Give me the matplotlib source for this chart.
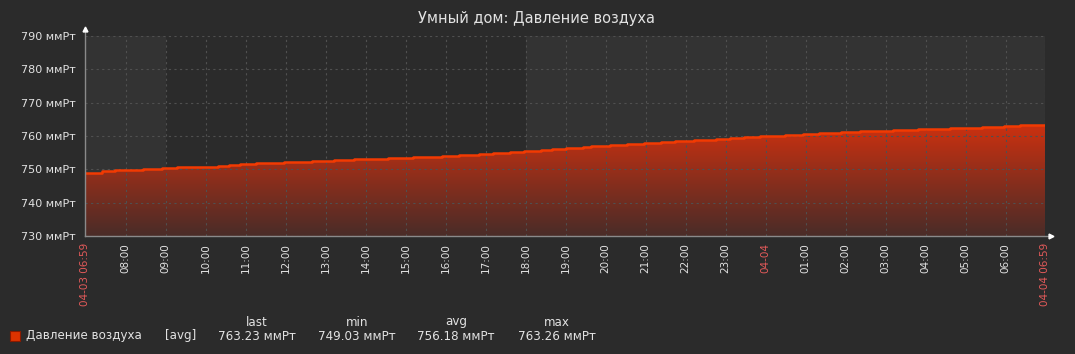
import numpy as np
import pandas as pd
import matplotlib
matplotlib.use("Agg")
import matplotlib.pyplot as plt
import matplotlib.dates as mdates
from matplotlib.colors import LinearSegmentedColormap
from matplotlib.patches import Rectangle

# ---------------- data ----------------
title = "Умный дом: Давление воздуха"
series_name = "Давление воздуха"
unit = "ммРт"
period_start = "2024-04-03 06:59"
period_end = "2024-04-04 06:59"
work_start = "2024-04-03 09:00"
work_end = "2024-04-03 18:00"

step_times = [
    "2024-04-03 06:59", "2024-04-03 07:24", "2024-04-03 07:44", "2024-04-03 08:26",
    "2024-04-03 08:54", "2024-04-03 09:17", "2024-04-03 10:18", "2024-04-03 10:35",
    "2024-04-03 10:51", "2024-04-03 11:15", "2024-04-03 11:57", "2024-04-03 12:39",
    "2024-04-03 13:12", "2024-04-03 13:42", "2024-04-03 14:33", "2024-04-03 15:11",
    "2024-04-03 15:54", "2024-04-03 16:20", "2024-04-03 16:50", "2024-04-03 17:11",
    "2024-04-03 17:36", "2024-04-03 17:57", "2024-04-03 18:23", "2024-04-03 18:39",
    "2024-04-03 19:00", "2024-04-03 19:26", "2024-04-03 19:38", "2024-04-03 20:06",
    "2024-04-03 20:32", "2024-04-03 20:57", "2024-04-03 21:23", "2024-04-03 21:44",
    "2024-04-03 22:12", "2024-04-03 22:45", "2024-04-03 23:06", "2024-04-03 23:27",
    "2024-04-03 23:51", "2024-04-04 00:29", "2024-04-04 00:56", "2024-04-04 01:20",
    "2024-04-04 01:53", "2024-04-04 02:21", "2024-04-04 03:11", "2024-04-04 03:48",
    "2024-04-04 04:36", "2024-04-04 05:24", "2024-04-04 05:57", "2024-04-04 06:21",
    "2024-04-04 06:59",
]
step_values = [
    749.03, 749.4, 749.7, 750.1,
    750.4, 750.7, 750.9, 751.3,
    751.6, 751.9, 752.1, 752.5,
    752.8, 753.1, 753.4, 753.7,
    754.0, 754.3, 754.5, 754.8,
    755.1, 755.4, 755.8, 756.1,
    756.4, 756.7, 757.0, 757.3,
    757.6, 757.9, 758.1, 758.4,
    758.8, 759.1, 759.4, 759.7,
    760.0, 760.3, 760.6, 760.9,
    761.2, 761.5, 761.8, 762.1,
    762.4, 762.7, 763.0, 763.26,
    763.23,
]

y_ticks = [730, 740, 750, 760, 770, 780, 790]
x_tick_times = [
    "2024-04-03 06:59", "2024-04-03 08:00", "2024-04-03 09:00", "2024-04-03 10:00",
    "2024-04-03 11:00", "2024-04-03 12:00", "2024-04-03 13:00", "2024-04-03 14:00",
    "2024-04-03 15:00", "2024-04-03 16:00", "2024-04-03 17:00", "2024-04-03 18:00",
    "2024-04-03 19:00", "2024-04-03 20:00", "2024-04-03 21:00", "2024-04-03 22:00",
    "2024-04-03 23:00", "2024-04-04 00:00", "2024-04-04 01:00", "2024-04-04 02:00",
    "2024-04-04 03:00", "2024-04-04 04:00", "2024-04-04 05:00", "2024-04-04 06:00",
    "2024-04-04 06:59",
]
x_tick_labels = [
    "04-03 06:59", "08:00", "09:00", "10:00", "11:00", "12:00", "13:00", "14:00",
    "15:00", "16:00", "17:00", "18:00", "19:00", "20:00", "21:00", "22:00",
    "23:00", "04-04", "01:00", "02:00", "03:00", "04:00", "05:00", "06:00",
    "04-04 06:59",
]
highlight_labels = ["04-03 06:59", "04-04", "04-04 06:59"]

stat_names = ["last", "min", "avg", "max"]
stat_values = [763.23, 749.03, 756.18, 763.26]
agg_label = "[avg]"

# ---------------- style ----------------
W, H = 1075, 354
BG = "#2b2b2b"
LIGHT = "#333333"
TXT = "#e2e2e2"
RED_TXT = "#e45a5a"
LINE = "#f23a02"
GRID = "#505050"
AXIS = "#8a8a8a"

plt.rcParams["font.family"] = ["DejaVu Sans"]

fig = plt.figure(figsize=(W / 100, H / 100), dpi=100, facecolor=BG)
L, R, T, B = 85, 1045, 36, 236
ax = fig.add_axes([L / W, 1 - B / H, (R - L) / W, (B - T) / H])
ax.set_facecolor(BG)

t = pd.to_datetime(step_times)
v = np.array(step_values)
tn = mdates.date2num(t)
x0 = mdates.date2num(pd.Timestamp(period_start))
x1 = mdates.date2num(pd.Timestamp(period_end))

# non-working time shading
ax.axvspan(x0, mdates.date2num(pd.Timestamp(work_start)), color=LIGHT, lw=0, zorder=0)
ax.axvspan(mdates.date2num(pd.Timestamp(work_end)), x1, color=LIGHT, lw=0, zorder=0)

ax.set_xlim(x0, x1)
ax.set_ylim(730, 790)

# gradient fill under the step line
fill = ax.fill_between(tn, 730, v, step="post", color="none", lw=0, zorder=2)
cmap = LinearSegmentedColormap.from_list("g", ["#4a2c28", "#8a2e1c", "#cc3110"])
yy = np.linspace(730, 790, 300)
grad = np.clip((yy - 730) / (763.5 - 730), 0, 1)[:, None]
im = ax.imshow(grad, extent=[x0, x1, 730, 790], origin="lower", aspect="auto",
               cmap=cmap, vmin=0, vmax=1, zorder=2, interpolation="bilinear")
path = fill.get_paths()[0]
im.set_clip_path(path, transform=ax.transData)

ax.step(tn, v, where="post", color=LINE, lw=1.8, zorder=3)

# ticks / grid
xt = mdates.date2num(pd.to_datetime(x_tick_times))
ax.set_xticks(xt)
ax.set_xticklabels(x_tick_labels, rotation=90, fontsize=7.5, va="top", ha="center")
for lab, txt in zip(ax.get_xticklabels(), x_tick_labels):
    lab.set_color(RED_TXT if txt in highlight_labels else TXT)
ax.set_yticks(y_ticks)
ax.set_yticklabels([f"{y} {unit}" for y in y_ticks], fontsize=8, color=TXT)
ax.tick_params(axis="x", length=0, pad=5)
ax.tick_params(axis="y", length=0, pad=7)
ax.grid(True, color=GRID, lw=0.8, linestyle=(0, (2, 3)), zorder=1)
ax.set_axisbelow(False)
for s in ax.spines.values():
    s.set_visible(False)

# axis lines with arrow heads
ax.plot([0, 0], [0, 1.035], transform=ax.transAxes, color=AXIS, lw=1.0, clip_on=False, zorder=5)
ax.plot([0, 1.006], [0, 0], transform=ax.transAxes, color=AXIS, lw=1.0, clip_on=False, zorder=5)
ax.plot([0], [1.035], marker="^", ms=3.5, color="white", transform=ax.transAxes, clip_on=False, zorder=6)
ax.plot([1.006], [0], marker=">", ms=3.5, color="white", transform=ax.transAxes, clip_on=False, zorder=6)

# title
fig.text(536 / W, 1 - 19 / H, title, ha="center", va="center", fontsize=10.5, color=TXT)

# legend
def fp(x, y):
    return x / W, 1 - y / H

fig.patches.append(Rectangle(fp(10, 341), 10 / W, 10 / H, transform=fig.transFigure,
                             facecolor="#dd3300", edgecolor="#8a1a00", lw=0.8))
fig.text(*fp(26, 336), series_name, ha="left", va="center", fontsize=8.6, color=TXT)
fig.text(*fp(165, 336), agg_label, ha="left", va="center", fontsize=8.6, color=TXT)
col_x = [257, 357, 456, 557]
for cx, name, val in zip(col_x, stat_names, stat_values):
    fig.text(*fp(cx, 322), name, ha="center", va="center", fontsize=8.6, color=TXT)
    fig.text(*fp(cx, 336), f"{val:.2f} {unit}", ha="center", va="center", fontsize=8.6, color=TXT)

fig.savefig("out.png", dpi=100, facecolor=BG)
